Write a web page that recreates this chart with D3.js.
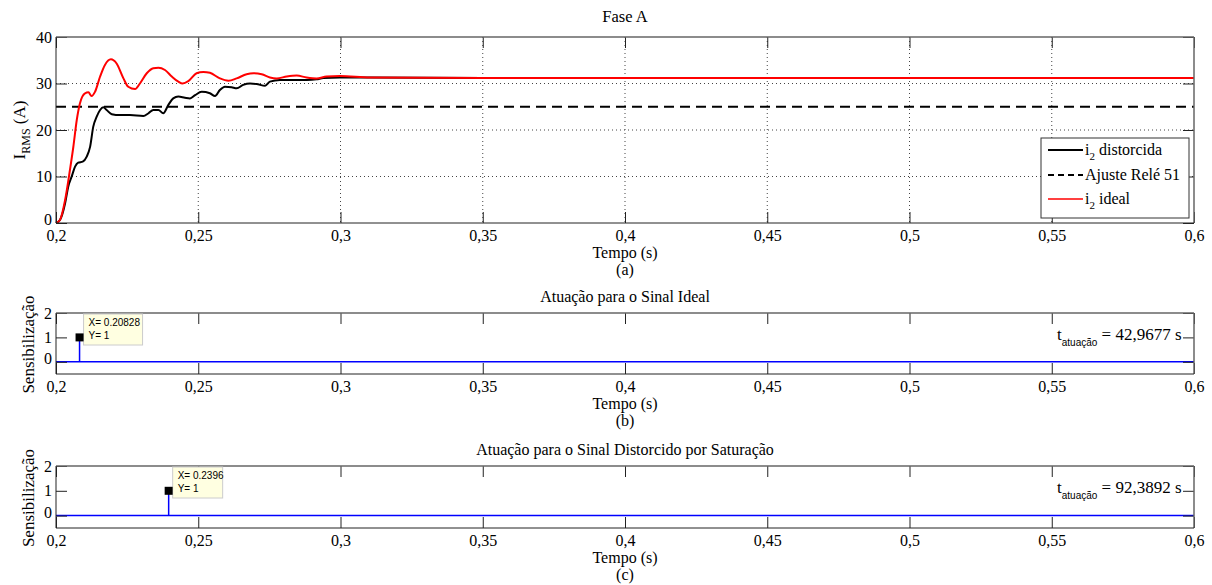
<!DOCTYPE html>
<html><head><meta charset="utf-8">
<script src="https://cdn.jsdelivr.net/npm/d3@7"></script>
<style>
body{margin:0;background:#fff;}
svg text{font-family:"Liberation Serif","Times New Roman",serif;fill:#000;}
</style></head>
<body><svg id="c" width="1212" height="585"></svg>
<script>
// ---------- data ----------
const xTicks = [0.2,0.25,0.3,0.35,0.4,0.45,0.5,0.55,0.6];
const xTickLabels = ["0,2","0,25","0,3","0,35","0,4","0,45","0,5","0,55","0,6"];
const yTicksA = [0,10,20,30,40];
const yTicksB = [0,1,2];

const tIdeal = [0.2,0.2014,0.2032,0.2049,0.2061,0.2073,0.2084,0.2102,0.2114,0.2125,0.2137,0.2155,0.2172,0.2193,0.2213,0.2237,0.2254,0.2278,0.2295,0.2319,0.2342,0.2360,0.2383,0.2407,0.2430,0.2445,0.2465,0.2494,0.2518,0.2541,0.2576,0.2606,0.2635,0.2670,0.2694,0.2723,0.2752,0.2776,0.2811,0.2846,0.2881,0.2916,0.2951,0.2998,0.3104,0.35,0.4,0.5,0.6];
const iIdeal = [0,0.65,4.95,11.4,16.4,22.15,25.7,27.9,28.1,27.3,28.2,31.5,34.0,35.2,34.3,31.1,29.3,28.8,30.0,32.2,33.3,33.4,32.9,31.5,30.4,30.0,30.5,32.2,32.5,32.3,31.1,30.6,31.1,32.0,32.2,32.0,31.3,31.1,31.5,31.7,31.3,31.1,31.5,31.6,31.3,31.2,31.2,31.2,31.2];

const tDist = [0.2,0.2014,0.2032,0.2043,0.2055,0.2067,0.2078,0.2094,0.2108,0.2120,0.2131,0.2143,0.2155,0.2166,0.2178,0.2196,0.2225,0.2260,0.2307,0.2325,0.2342,0.2360,0.2377,0.2395,0.2412,0.2430,0.2453,0.2471,0.2489,0.2512,0.2541,0.2559,0.2576,0.2594,0.2617,0.2635,0.2658,0.2682,0.2705,0.2735,0.2752,0.2787,0.2834,0.2881,0.2916,0.2940,0.2998,0.3104,0.35,0.4,0.5,0.6];
const iDist = [0,0.65,4.23,7.81,9.96,12.11,12.97,13.19,14.27,16.42,20.72,22.87,24.3,24.9,24.3,23.4,23.2,23.2,23.0,23.6,24.3,24.3,23.6,25.4,26.8,27.2,26.95,26.8,27.5,28.2,27.9,27.3,28.6,29.3,29.2,28.96,29.7,30.0,29.9,29.5,30.4,30.75,30.75,30.75,30.9,31.2,31.3,31.3,31.2,31.2,31.2,31.2];

const relaySetting = 25;
const tripIdeal = 0.20828, tripDist = 0.2396;
const tAtuacao = ["42,9677","92,3892"];
const legendLabels = ["distorcida","Ajuste Relé 51","ideal"];

// ---------- layout ----------
const svg = d3.select("#c");
const L = 56, R = 1194;
const x = d3.scaleLinear().domain([0.2,0.6]).range([L,R]);
const TL = 11;
const SANS = "'Liberation Sans', Arial, sans-serif";

function grid(g, y, yt){
  const top = y.range()[1], bot = y.range()[0];
  g.append("g").selectAll("line").data(xTicks.slice(1,-1)).join("line")
    .attr("x1",d=>x(d)).attr("x2",d=>x(d)).attr("y1",top).attr("y2",bot)
    .attr("stroke","#444").attr("stroke-width",1).attr("stroke-dasharray","1,3");
  g.append("g").selectAll("line").data(yt.slice(1,-1)).join("line")
    .attr("y1",d=>y(d)).attr("y2",d=>y(d)).attr("x1",L).attr("x2",R)
    .attr("stroke","#444").attr("stroke-width",1).attr("stroke-dasharray","1,3");
}
function axes(g, y, yt){
  const top = y.range()[1], bot = y.range()[0];
  const ax = g.append("g").attr("transform",`translate(0,${bot})`)
    .call(d3.axisBottom(x).tickValues(xTicks).tickFormat((d,i)=>xTickLabels[i]).tickSizeInner(-TL).tickSizeOuter(0).tickPadding(7));
  const at = g.append("g").attr("transform",`translate(0,${top})`)
    .call(d3.axisTop(x).tickValues(xTicks).tickFormat("").tickSizeInner(-TL).tickSizeOuter(0));
  const al = g.append("g").attr("transform",`translate(${L},0)`)
    .call(d3.axisLeft(y).tickValues(yt).tickFormat(d3.format("d")).tickSizeInner(-TL).tickSizeOuter(0).tickPadding(4));
  const ar = g.append("g").attr("transform",`translate(${R},0)`)
    .call(d3.axisRight(y).tickValues(yt).tickFormat("").tickSizeInner(-TL).tickSizeOuter(0));
  [ax,at,al,ar].forEach(a=>{
    a.select(".domain").remove();
    a.selectAll(".tick line").attr("stroke","#222");
    a.selectAll("text").attr("font-size",16).attr("fill","#000");
  });
  // lift the lowest y label a little so it clears the first x label
  al.selectAll(".tick").filter(d=>d===yt[0]).select("text").attr("dy","0.1em");
  g.append("line").attr("x1",L).attr("x2",R).attr("y1",top).attr("y2",top).attr("stroke","#666").attr("stroke-width",1.5);
  g.append("line").attr("x1",R).attr("x2",R).attr("y1",top).attr("y2",bot).attr("stroke","#666").attr("stroke-width",1.5);
  g.append("line").attr("x1",L).attr("x2",R).attr("y1",bot).attr("y2",bot).attr("stroke","#222");
  g.append("line").attr("x1",L).attr("x2",L).attr("y1",top).attr("y2",bot).attr("stroke","#222");
}
function ctext(t, xx, yy, size){
  return svg.append("text").attr("x",xx).attr("y",yy).attr("text-anchor","middle").attr("font-size",size).text(t);
}
const cx = (L+R)/2;

// ---------- panel (a) ----------
const yA = d3.scaleLinear().domain([0,40]).range([223,37]);
const gA = svg.append("g");
grid(gA, yA, yTicksA);
const line = d3.line().x(d=>x(d[0])).y(d=>yA(d[1])).curve(d3.curveMonotoneX);
gA.append("line").attr("x1",x(0.2)).attr("x2",x(0.6)).attr("y1",yA(relaySetting)).attr("y2",yA(relaySetting))
  .attr("stroke","#000").attr("stroke-width",2).attr("stroke-dasharray","10,6");
gA.append("path").datum(d3.zip(tDist,iDist)).attr("d",line).attr("fill","none").attr("stroke","#000").attr("stroke-width",2);
gA.append("path").datum(d3.zip(tIdeal,iIdeal)).attr("d",line).attr("fill","none").attr("stroke","#f00").attr("stroke-width",2);
axes(gA, yA, yTicksA);

// legend
const lg = svg.append("g");
lg.append("rect").attr("x",1041).attr("y",138).attr("width",148).attr("height",80).attr("fill","#fff").attr("stroke","#333");
const rows = [{y:155,c:"#000",dash:null,sub:true},{y:180,c:"#000",dash:"6,4",sub:false},{y:204,c:"#f00",dash:null,sub:true}];
rows.forEach((r,i)=>{
  lg.append("line").attr("x1",1048).attr("x2",1083).attr("y1",r.y-5).attr("y2",r.y-5).attr("stroke",r.c).attr("stroke-width",r.c==="#f00"?1.5:2).attr("stroke-dasharray",r.dash);
  const t = lg.append("text").attr("x",1085).attr("y",r.y).attr("font-size",16);
  if(r.sub){
    t.append("tspan").text("i");
    t.append("tspan").attr("font-size",11).attr("dy",5).text("2");
    t.append("tspan").attr("dy",-5).text(" "+legendLabels[i]);
  } else t.text(legendLabels[i]);
});

ctext("Fase A", cx, 22, 16.5);
ctext("Tempo (s)", cx, 258, 16);
ctext("(a)", cx, 275, 16);
const yl = svg.append("text").attr("transform","translate(25,130) rotate(-90)").attr("text-anchor","middle").attr("font-size",17);
yl.append("tspan").text("I");
yl.append("tspan").attr("font-size",12).attr("dy",5).text("RMS");
yl.append("tspan").attr("dy",-5).text(" (A)");

// ---------- panels (b) and (c) ----------
function trip(top, bot, tTrip, tAt, title, letter){
  const y = d3.scaleLinear().domain([-0.5,2]).range([bot,top]);
  const g = svg.append("g");
  const data = [[0.2,0],[tTrip,0],[tTrip,1],[tTrip,0],[0.6,0]];
  g.append("path").datum(data).attr("d",d3.line().x(d=>x(d[0])).y(d=>y(d[1])))
    .attr("fill","none").attr("stroke","#00f").attr("stroke-width",1.5);
  axes(g, y, yTicksB);
  // datatip
  const px = x(tTrip), py = y(1);
  g.append("rect").attr("x",px+4).attr("y",top+1).attr("width",tTrip<0.22?59:50).attr("height",31)
    .attr("fill","#ffffe1").attr("stroke","#ccc");
  g.append("rect").attr("x",px-4).attr("y",py-4).attr("width",8).attr("height",8).attr("fill","#000");
  g.append("text").attr("x",px+9).attr("y",top+13).style("font-family",SANS).attr("font-size",10).attr("fill","#222").text("X= "+tTrip);
  g.append("text").attr("x",px+9).attr("y",top+26).style("font-family",SANS).attr("font-size",10).attr("fill","#222").text("Y= 1");
  // t_atuação
  const ta = g.append("text").attr("x",1057).attr("y",top+27).attr("font-size",17);
  ta.append("tspan").text("t");
  ta.append("tspan").style("font-family",SANS).attr("font-size",10).attr("dy",6).text("atuação");
  ta.append("tspan").attr("dy",-6).text(" = "+tAt+" s");
  ctext(title, cx, top-11, 16);
  ctext("Tempo (s)", cx, bot+35, 16);
  ctext(letter, cx, bot+52, 16);
  svg.append("text").attr("transform",`translate(34,${(top+bot)/2+1}) rotate(-90)`).attr("text-anchor","middle").attr("font-size",17).text("Sensibilização");
}
trip(313, 374, tripIdeal, tAtuacao[0], "Atuação para o Sinal Ideal", "(b)");
trip(466, 528, tripDist, tAtuacao[1], "Atuação para o Sinal Distorcido por Saturação", "(c)");
</script></body></html>
